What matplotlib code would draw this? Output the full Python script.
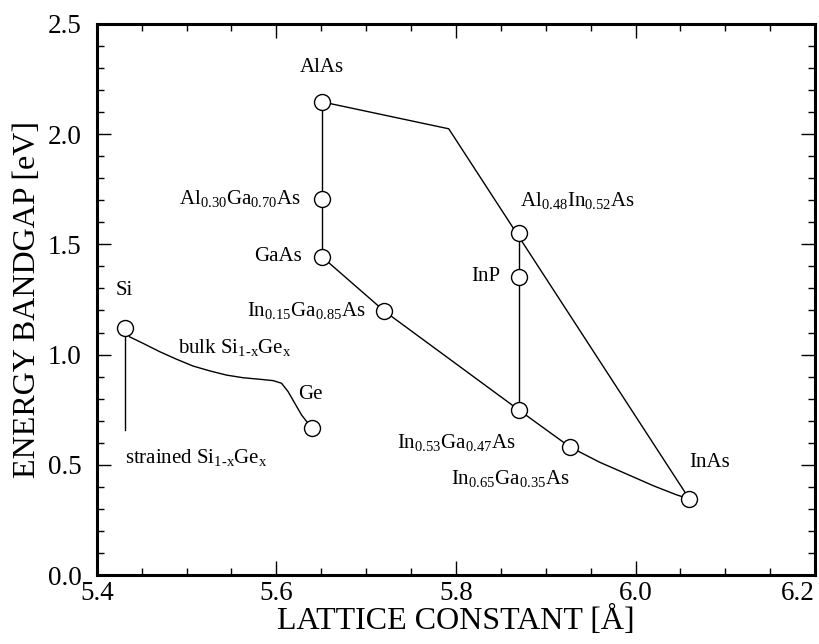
import matplotlib
matplotlib.use('Agg')
import matplotlib.pyplot as plt
from matplotlib.ticker import MultipleLocator

plt.rcParams['font.family'] = ['Liberation Serif', 'DejaVu Serif']
plt.rcParams['mathtext.fontset'] = 'custom'
plt.rcParams['mathtext.rm'] = 'Liberation Serif'
plt.rcParams['mathtext.it'] = 'Liberation Serif'

# material points (lattice constant in Angstrom, bandgap in eV)
names = ['Si', 'Ge', 'AlAs', 'Al0.30Ga0.70As', 'GaAs', 'In0.15Ga0.85As',
         'Al0.48In0.52As', 'InP', 'In0.53Ga0.47As', 'In0.65Ga0.35As', 'InAs']
lattice = [5.431, 5.640, 5.651, 5.651, 5.651, 5.72, 5.87, 5.87, 5.87, 5.927, 6.06]
bandgap = [1.12, 0.665, 2.146, 1.706, 1.443, 1.198, 1.552, 1.352, 0.749, 0.581, 0.345]

# bulk SiGe curve
sige_x = [5.431, 5.4368, 5.4516, 5.4702, 5.4888, 5.5073, 5.5259, 5.5445, 5.5630,
          5.5816, 5.5964, 5.6058, 5.6131, 5.6206, 5.6281, 5.6354, 5.640]
sige_y = [1.12, 1.080, 1.051, 1.013, 0.979, 0.948, 0.926, 0.907, 0.895,
          0.888, 0.882, 0.870, 0.832, 0.779, 0.726, 0.688, 0.665]

# strained SiGe
strained_x = [5.431, 5.431]
strained_y = [1.12, 0.66]

# AlAs - GaAs line
algaas_x = [5.651, 5.651]
algaas_y = [2.146, 1.443]

# AlAs - InAs boundary with kink
alinas_x = [5.651, 5.792, 6.06]
alinas_y = [2.146, 2.024, 0.345]

# InGaAs curve, GaAs to InAs
ingaas_x = [5.651, 5.72, 5.87, 5.927, 5.96, 5.992, 6.02, 6.045, 6.06]
ingaas_y = [1.443, 1.198, 0.749, 0.581, 0.512, 0.455, 0.405, 0.365, 0.345]

# InP lattice-matched line
inp_x = [5.87, 5.87]
inp_y = [1.552, 0.749]

xticks = [5.4, 5.6, 5.8, 6.0, 6.2]
xticklabels = ['5.4', '5.6', '5.8', '6.0', '6.2']

fig = plt.figure(figsize=(8.2, 6.44), dpi=100)
ax = fig.add_axes([0.118, 0.107, 0.876, 0.856])

lw = 1.0
ax.plot(sige_x, sige_y, color='black', lw=lw)
ax.plot(strained_x, strained_y, color='black', lw=lw)
ax.plot(algaas_x, algaas_y, color='black', lw=lw)
ax.plot(alinas_x, alinas_y, color='black', lw=lw)
ax.plot(ingaas_x, ingaas_y, color='black', lw=lw)
ax.plot(inp_x, inp_y, color='black', lw=lw)
ax.plot(lattice, bandgap, 'o', ms=11.5, mfc='white', mec='black', mew=1.0, zorder=5)

fs = 15
ax.text(5.421, 1.29, 'Si', fontsize=fs, ha='left', va='center')
ax.text(5.49, 1.03, r'bulk Si$_{\rm 1\text{-}x}$Ge$_{\rm x}$', fontsize=fs, ha='left', va='center')
ax.text(5.624, 0.82, 'Ge', fontsize=fs, ha='left', va='center')
ax.text(5.431, 0.535, r'strained Si$_{\rm 1\text{-}x}$Ge$_{\rm x}$', fontsize=fs, ha='left', va='center')
ax.text(5.651, 2.30, 'AlAs', fontsize=fs, ha='center', va='center')
ax.text(5.628, 1.706, r'Al$_{\rm 0.30}$Ga$_{\rm 0.70}$As', fontsize=fs, ha='right', va='center')
ax.text(5.628, 1.443, 'GaAs', fontsize=fs, ha='right', va='center')
ax.text(5.699, 1.198, r'In$_{\rm 0.15}$Ga$_{\rm 0.85}$As', fontsize=fs, ha='right', va='center')
ax.text(5.871, 1.70, r'Al$_{\rm 0.48}$In$_{\rm 0.52}$As', fontsize=fs, ha='left', va='center')
ax.text(5.849, 1.352, 'InP', fontsize=fs, ha='right', va='center')
ax.text(5.867, 0.60, r'In$_{\rm 0.53}$Ga$_{\rm 0.47}$As', fontsize=fs, ha='right', va='center')
ax.text(5.927, 0.44, r'In$_{\rm 0.65}$Ga$_{\rm 0.35}$As', fontsize=fs, ha='right', va='center')
ax.text(6.06, 0.51, 'InAs', fontsize=fs, ha='left', va='center')

ax.set_xlim(5.4, 6.2)
ax.set_ylim(0.0, 2.5)
ax.set_xticks(xticks)
ax.set_xticklabels(xticklabels)
ax.xaxis.set_minor_locator(MultipleLocator(0.05))
ax.yaxis.set_major_locator(MultipleLocator(0.5))
ax.yaxis.set_minor_locator(MultipleLocator(0.1))
ax.yaxis.set_major_formatter(plt.FormatStrFormatter('%.1f'))
ax.tick_params(which='both', direction='in', top=True, right=True, labelsize=19.5, width=1.0)
ax.tick_params(which='major', length=10)
ax.tick_params(which='minor', length=5)
ax.tick_params(axis='x', which='major', pad=4)
ax.tick_params(axis='y', which='major', pad=11)
for s in ax.spines.values():
    s.set_linewidth(2.2)

# keep the last x label inside the figure
ax.get_xticklabels()[-1].set_horizontalalignment('right')

ax.set_xlabel('LATTICE CONSTANT [Å]', fontsize=23, labelpad=0)
ax.set_ylabel('ENERGY BANDGAP [eV]', fontsize=23, labelpad=4)

fig.savefig('out.png', dpi=100)
